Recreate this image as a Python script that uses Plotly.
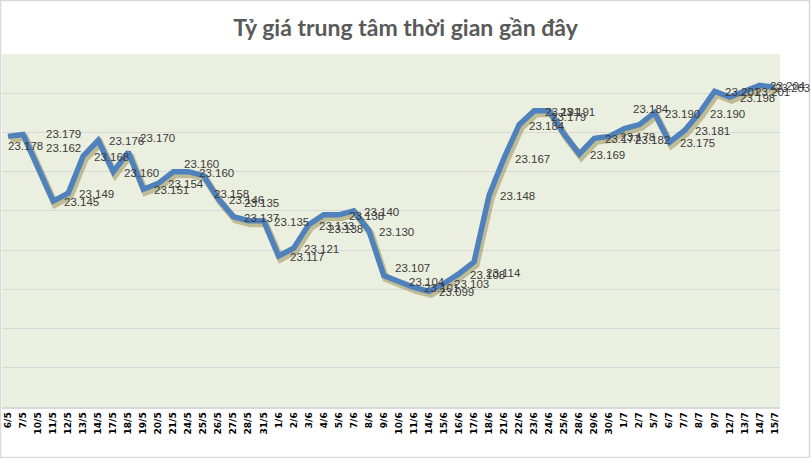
import plotly.graph_objects as go

dates = ["6/5", "7/5", "10/5", "11/5", "12/5", "13/5", "14/5", "17/5", "18/5", "19/5",
         "20/5", "21/5", "24/5", "25/5", "26/5", "27/5", "28/5", "31/5", "1/6", "2/6",
         "3/6", "4/6", "5/6", "7/6", "8/6", "9/6", "10/6", "11/6", "14/6", "15/6",
         "16/6", "17/6", "18/6", "21/6", "22/6", "23/6", "24/6", "25/6", "28/6", "29/6",
         "30/6", "1/7", "2/7", "5/7", "6/7", "7/7", "8/7", "9/7", "12/7", "13/7",
         "14/7", "15/7"]

rates = [23.178, 23.179, 23.162, 23.145, 23.149, 23.168, 23.176, 23.160, 23.170, 23.151,
         23.154, 23.160, 23.160, 23.158, 23.146, 23.137, 23.135, 23.135, 23.117, 23.121,
         23.133, 23.138, 23.138, 23.140, 23.130, 23.107, 23.104, 23.101, 23.099, 23.103,
         23.108, 23.114, 23.148, 23.167, 23.184, 23.191, 23.191, 23.179, 23.169, 23.177,
         23.178, 23.182, 23.184, 23.190, 23.175, 23.181, 23.190, 23.201, 23.198, 23.201,
         23.204, 23.203]

title_text = "Tỷ giá trung tâm thời gian gần đây"

# label offsets (style): default "right of point"; some labels moved as in the original
DEFAULT_OFF = (28, 1)
label_off = {0: (17, 10), 1: (40, 0), 2: (25, -20), 8: (29, -14), 11: (28, -8),
             13: (28, 18), 16: (13, -18), 21: (22, 14), 25: (29, -8), 31: (29, 11),
             37: (4, -17), 41: (28, 11), 42: (12, -16), 51: (18, 1)}

W, H = 811, 458
ML, MR, MT, MB = 2, 31, 54, 51
XR = [-0.4, 51.35]
YR = [23.04, 23.22]
pw = W - ML - MR
ph = H - MT - MB
dx_units = (XR[1] - XR[0]) / pw
dy_units = (YR[1] - YR[0]) / ph

fig = go.Figure()

# shadow line: base axes, range shifted a few pixels (drawn underneath)
fig.add_trace(go.Scatter(
    x=dates, y=rates, mode="lines", xaxis="x", yaxis="y",
    line=dict(color="rgba(125,110,35,0.40)", width=7),
    hoverinfo="skip", showlegend=False))

# main line: overlaying axes with the true ranges (drawn above)
fig.add_trace(go.Scatter(
    x=dates, y=rates, mode="lines", xaxis="x2", yaxis="y2",
    line=dict(color="#4F81BD", width=5.5),
    showlegend=False))

annotations = []
for i, (d, v) in enumerate(zip(dates, rates)):
    ox, oy = label_off.get(i, DEFAULT_OFF)
    annotations.append(dict(
        x=d, y=v, xref="x2", yref="y2", text=f"{v:.3f}", showarrow=False,
        xanchor="center", yanchor="middle", xshift=ox, yshift=-oy,
        font=dict(family="Liberation Sans, Arial, sans-serif", size=11.5, color="#3A3A3A")))

cat = dict(type="category", categoryorder="array", categoryarray=dates)

fig.update_layout(
    width=W, height=H,
    margin=dict(l=ML, r=MR, t=MT, b=MB),
    paper_bgcolor="white",
    plot_bgcolor="#EBEFDF",
    title=dict(text=title_text, x=0.5, xref="container", xanchor="center",
               y=1 - 28 / H, yref="container", yanchor="middle",
               font=dict(family="Lato, sans-serif", size=23, color="#595959", weight="bold")),
    xaxis=dict(**cat, range=[XR[0] - 2 * dx_units, XR[1] - 2 * dx_units],
               visible=False, showgrid=False, zeroline=False),
    yaxis=dict(range=[YR[0] + 3 * dy_units, YR[1] + 3 * dy_units],
               visible=False, showgrid=False, zeroline=False),
    xaxis2=dict(**cat, range=XR, overlaying="x", anchor="y2", side="bottom",
                tickangle=-90, showgrid=False, zeroline=False,
                showline=True, linecolor="#D9D9D9", linewidth=1.5,
                ticks="", tickfont=dict(family="DejaVu Sans, sans-serif", size=9,
                                        color="#000000", weight="bold")),
    yaxis2=dict(range=YR, overlaying="y", anchor="x2", side="left",
                dtick=0.02, tick0=23.04, showgrid=True, gridcolor="#D9D9D9",
                gridwidth=1.2, showticklabels=False, zeroline=False, ticks=""),
    annotations=annotations,
    shapes=[dict(type="rect", xref="paper", yref="paper",
                 x0=(0.5 - ML) / pw, x1=(W - 1.5 - ML) / pw,
                 y0=-(MB - 0.5) / ph, y1=1 + (MT - 0.5) / ph,
                 line=dict(color="#D9D9D9", width=1.5), layer="below")],
)

fig.write_html("out.html")
